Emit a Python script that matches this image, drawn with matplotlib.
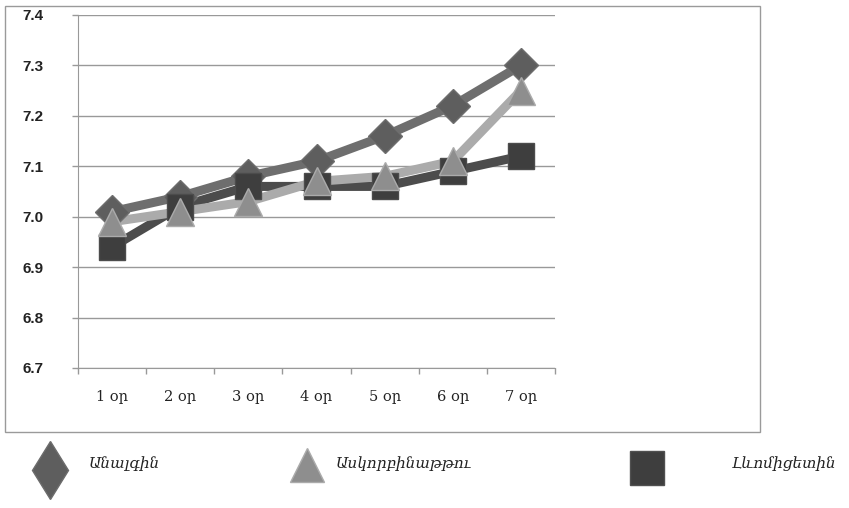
import matplotlib
matplotlib.use("Agg")
import matplotlib.pyplot as plt
from matplotlib.patches import Rectangle
from matplotlib.lines import Line2D

# data
days = ["1 օր", "2 օր", "3 օր", "4 օր", "5 օր", "6 օր", "7 օր"]
analgin = [7.01, 7.04, 7.08, 7.11, 7.16, 7.22, 7.30]
ascorbic = [6.99, 7.01, 7.03, 7.07, 7.08, 7.11, 7.25]
levomycetin = [6.94, 7.02, 7.06, 7.06, 7.06, 7.09, 7.12]
names = ["Անալգին", "Ասկորբինաթթու", "Լևոմիցետին"]
yticks = [6.7, 6.8, 6.9, 7.0, 7.1, 7.2, 7.3, 7.4]

fig = plt.figure(figsize=(8.49, 5.08), dpi=100)

# outer chart frame
fig.patches.append(Rectangle((0.0059, 0.1496), 0.889, 0.838, transform=fig.transFigure,
                             fill=False, edgecolor="#9a9a9a", lw=1.0, zorder=0))

ax = fig.add_axes([0.0919, 0.2756, 0.5618, 0.695])
x = list(range(len(days)))

series = [
    (analgin, "#6e6e6e", "#5e5e5e", "D", 17),
    (levomycetin, "#4c4c4c", "#3e3e3e", "s", 19),
    (ascorbic, "#ababab", "#8e8e8e", "^", 20),
]
for vals, lc, mc, mk, ms in series:
    ax.plot(x, vals, color=lc, lw=6.5, solid_capstyle="round", zorder=3)
for vals, lc, mc, mk, ms in series:
    ax.plot(x, vals, ls="none", marker=mk, ms=ms, markerfacecolor=mc,
            markeredgecolor=lc, markeredgewidth=1.0, zorder=4)

ax.set_xlim(-0.5, 6.5)
ax.set_ylim(6.7, 7.4)
ax.set_yticks(yticks)
ax.set_yticklabels([f"{v:.1f}" for v in yticks], fontsize=11, fontweight="bold",
                   color="#222222", family="Liberation Sans")
ax.tick_params(axis="y", length=4.5, width=1, color="#999999", pad=20)
ax.set_xticks([i - 0.5 for i in range(len(days) + 1)], minor=False)
ax.set_xticklabels([])
ax.set_xticks(x, minor=True)
ax.set_xticklabels(days, minor=True, fontsize=10.5, family=["DejaVu Serif"], color="#222222")
ax.tick_params(axis="x", which="major", length=4, width=1, color="#999999")
ax.tick_params(axis="x", which="minor", length=0, pad=16)
ax.grid(axis="y", color="#999999", lw=1)
ax.set_axisbelow(True)
for side in ["top", "right"]:
    ax.spines[side].set_visible(False)
ax.spines["left"].set_color("#999999")
ax.spines["bottom"].set_color("#999999")

# legend row below the frame
leg_items = [
    ("d", "#5e5e5e", "#6c6c6c", 30, 0.059, 0.075, 0.104),
    ("^", "#8e8e8e", "#ababab", 24, 0.362, 0.085, 0.395),
    ("s", "#3e3e3e", "#505050", 24, 0.762, 0.078, 0.862),
]
for (mk, mc, ec, ms, mx, my, tx), name in zip(leg_items, names):
    fig.add_artist(Line2D([mx], [my], marker=mk, ms=ms, markerfacecolor=mc,
                          markeredgecolor=ec, ls="none", transform=fig.transFigure))
    fig.text(tx, 0.088, name, fontsize=11, style="italic", family=["DejaVu Serif", "DejaVu Sans"],
             color="#222222", va="center")

fig.savefig("out.png", dpi=100)
